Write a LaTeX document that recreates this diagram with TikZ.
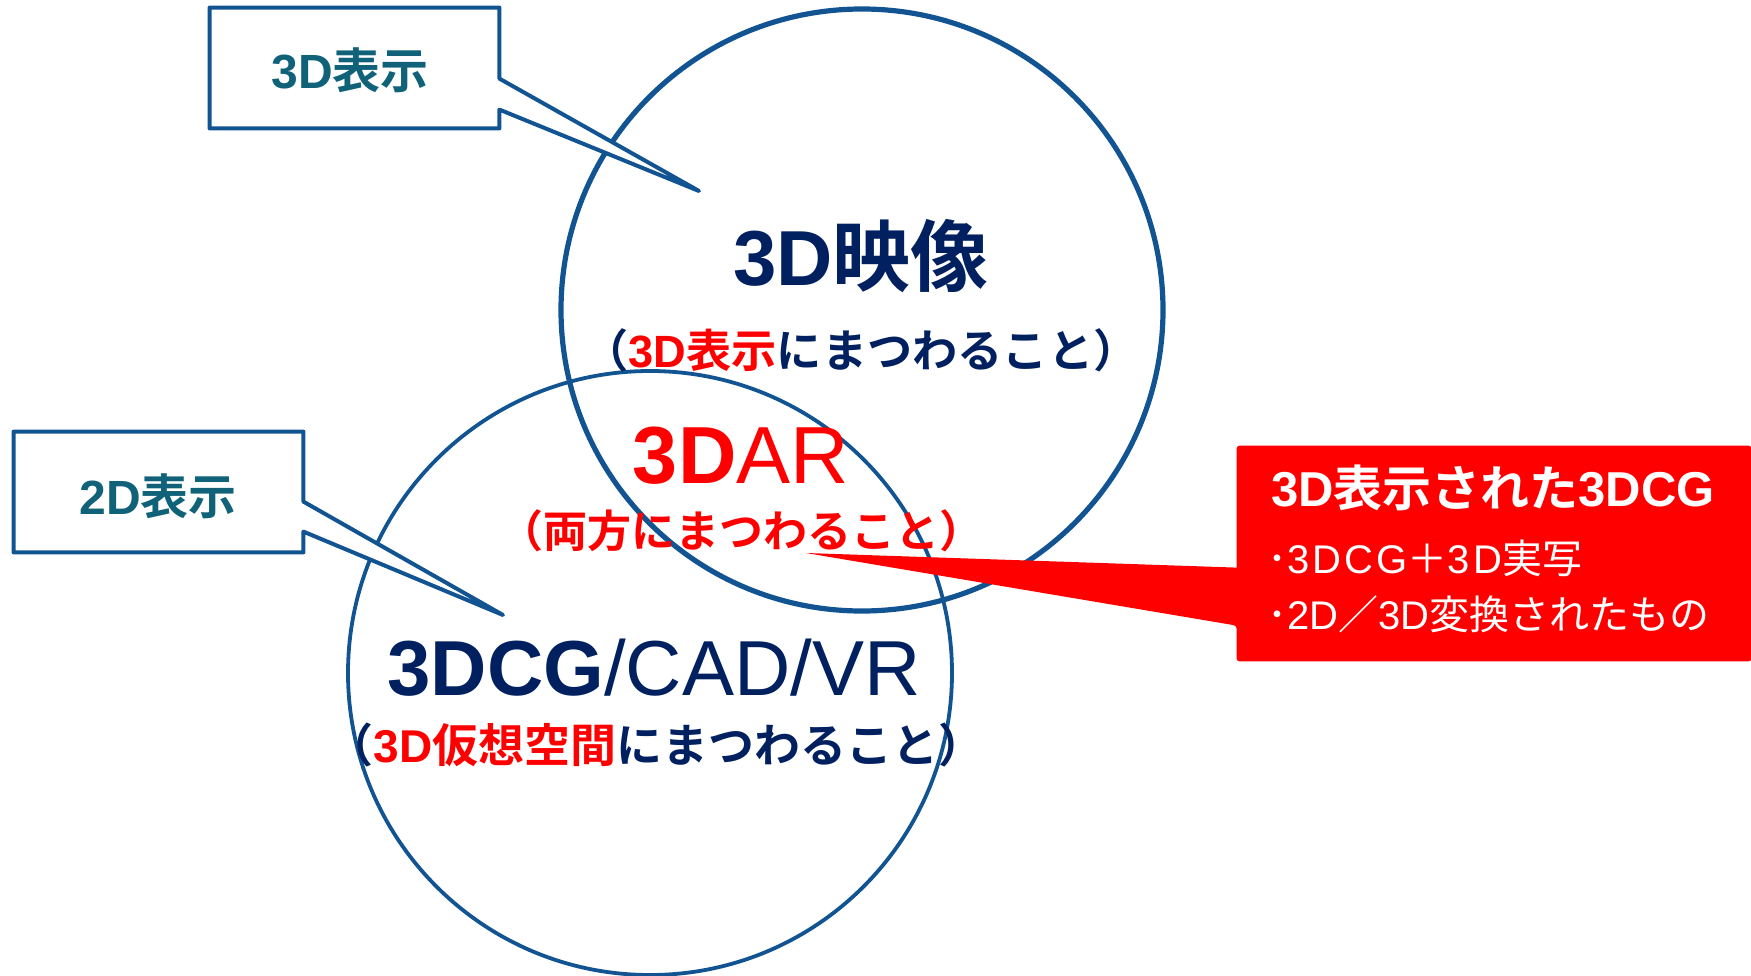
\documentclass[tikz,border=0pt]{standalone}
\usepackage{fontspec}
\setmainfont{Noto Sans CJK JP}[BoldFont={Noto Sans CJK JP Bold}]
\newfontfamily\lat{Liberation Sans}
\newfontfamily\latw{Liberation Sans}[LetterSpace=8]
\usetikzlibrary{calc}
\definecolor{circblue}{RGB}{18,84,146}
\definecolor{navy}{RGB}{0,32,96}
\definecolor{tealtxt}{RGB}{15,98,120}
\definecolor{redc}{RGB}{255,0,0}
\newcommand{\fs}[1]{\fontsize{#1}{#1}\selectfont}
\begin{document}
\begin{tikzpicture}[x=0.5pt,y=-0.5pt,
  circA/.style={circle, draw=circblue, line width=2.6pt, minimum size=301pt, inner sep=0pt},
  circB/.style={circle, draw=circblue, line width=1.9pt, minimum size=302pt, inner sep=0pt},
  calbox/.style={minimum width=144.5pt, minimum height=60pt, inner sep=0pt},
  calline/.style={draw=circblue, line width=2pt, fill=white, line join=round},
  lbl/.style={inner sep=0pt, outer sep=0pt},
  redbox/.style={minimum width=257pt, minimum height=107.5pt, inner sep=0pt}]
\useasboundingbox (0,0) rectangle (1751,975);

% circles
\node[circA] (c1) at (862,310) {};
\node[circB] (c2) at (650,673) {};

% callout 3D
\node[calbox] (k1) at (354.5,68) {};
\coordinate (k1tip) at (699,191);
\draw[calline] (k1.north west) -- (k1.north east) -- ($(k1.north east)+(0,71)$) -- (k1tip) -- ($(k1.north east)+(0,102)$) -- (k1.south east) -- (k1.south west) -- cycle;
\node[lbl, text=tealtxt, font=\bfseries\fs{24pt}] (k1t) at (350,70) {{\lat 3D}表示};

% callout 2D
\node[calbox] (k2) at (158.5,492) {};
\coordinate (k2tip) at (503,615);
\draw[calline] (k2.north west) -- (k2.north east) -- ($(k2.north east)+(0,70)$) -- (k2tip) -- ($(k2.north east)+(0,100)$) -- (k2.south east) -- (k2.south west) -- cycle;
\node[lbl, text=tealtxt, font=\bfseries\fs{24pt}] (k2t) at (158,496) {{\lat 2D}表示};

% circle texts
\node[lbl, text=navy, font=\bfseries\fs{39pt}] (t1) at (861,256) {{\lat 3D}映像};
\node[lbl, text=navy, font=\bfseries\fs{22.6pt}] (t2) at (861,350) {（\textcolor{redc}{{\lat 3D}表示}にまつわること）};
\node[lbl, text=redc, font=\lat\fs{40.5pt}] (t3) at (741,456) {{\bfseries 3D}AR};
\node[lbl, text=redc, font=\bfseries\fs{22pt}] (t4) at (741,531) {（両方にまつわること）};
\node[lbl, text=navy, font=\lat\fs{39pt}] (t5) at (654,668) {{\bfseries 3DCG}/CAD/VR};
\node[lbl, text=navy, font=\bfseries\fs{23pt}] (t6) at (656,745) {（\textcolor{redc}{{\lat 3D}仮想空間}にまつわること）};

% red callout
\node[redbox] (rb) at (1494,553.5) {};
\coordinate (rtip) at (806,553);
\fill[redc, rounded corners=1.5pt] (rb.north west) -- (rb.north east) -- (rb.south east) -- (rb.south west) -- ($(rb.north west)+(0,180)$) [sharp corners] -- (rtip) -- ($(rb.north west)+(0,122)$) [rounded corners=1.5pt] -- cycle;
\node[lbl, anchor=west, text=white, font=\bfseries\fs{24.5pt}] (r1) at (1271,488) {{\lat 3D}表示された{\lat 3DCG}};
\node[lbl, anchor=west, text=white, font=\fs{20pt}] (r2) at (1267,558) {･{\latw 3DCG}＋{\latw 3D}実写};
\node[lbl, anchor=west, text=white, font=\fs{20pt}] (r3) at (1267,614) {･{\lat 2D}／{\lat 3D}変換されたもの};
\end{tikzpicture}
\end{document}
